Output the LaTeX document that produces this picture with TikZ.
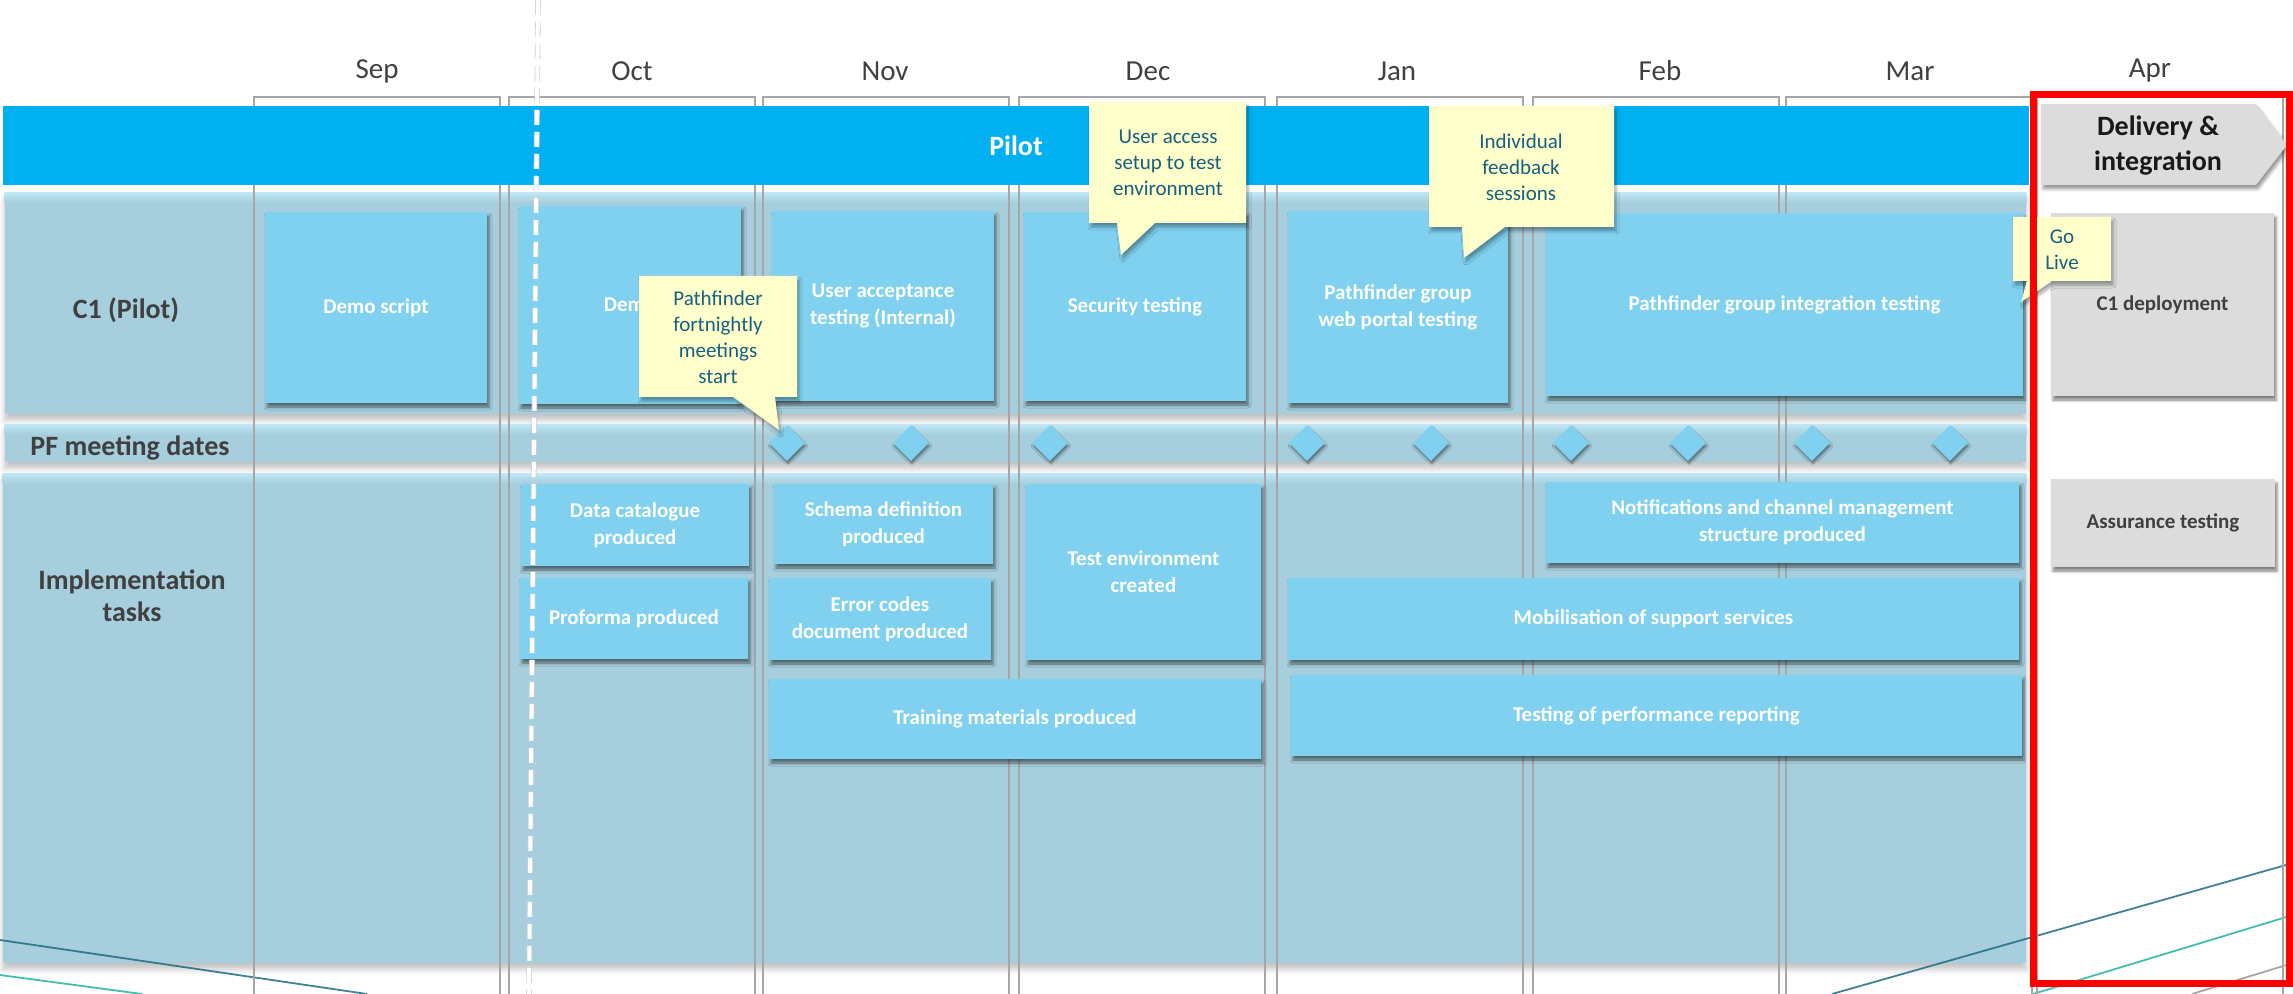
\documentclass[tikz,border=0pt]{standalone}
\usepackage{fontspec}
\setmainfont{Carlito}
\usetikzlibrary{positioning,shapes.geometric,shadows.blur}

\definecolor{pilotblue}{HTML}{00B0F0}
\definecolor{bandblue}{HTML}{A6CEDC}
\definecolor{bandtop}{HTML}{BFE6F5}
\definecolor{taskblue}{HTML}{7FD1EF}
\definecolor{greybox}{HTML}{DCDCDC}
\definecolor{noteyellow}{HTML}{FFFFCC}
\definecolor{noteink}{HTML}{17607F}
\definecolor{labelgrey}{HTML}{404040}
\definecolor{framegrey}{HTML}{A6A6A6}
\definecolor{darkteal}{HTML}{1E6B85}
\definecolor{lightteal}{HTML}{26B0A0}

\tikzset{
    band/.style={fill=bandblue, inner sep=0pt,
        blur shadow={shadow xshift=0pt, shadow yshift=-3pt, shadow blur radius=3pt, shadow opacity=25}},
    task/.style={fill=taskblue, text=white, inner sep=0pt, align=center,
        font=\bfseries\fontsize{10.5}{13.5}\selectfont,
        blur shadow={shadow xshift=1pt, shadow yshift=-2pt, shadow blur radius=1.5pt, shadow opacity=50}},
    greytask/.style={task, fill=greybox, text=labelgrey},
    note/.style={fill=noteyellow,
        blur shadow={shadow xshift=1pt, shadow yshift=-2pt, shadow blur radius=1.5pt, shadow opacity=35}},
    notetext/.style={text=noteink, inner sep=0pt, align=center, font=\fontsize{10.5}{13}\selectfont},
    monthframe/.style={draw=framegrey, line width=0.7pt},
    month/.style={text=labelgrey, font=\fontsize{14.5}{17}\selectfont},
    rowlabel/.style={text=labelgrey, align=center, font=\bfseries\fontsize{14}{16}\selectfont},
    pfdate/.style={diamond, fill=taskblue, minimum width=18pt, minimum height=18pt, inner sep=0pt,
        blur shadow={shadow xshift=0.5pt, shadow yshift=-1.5pt, shadow blur radius=1pt, shadow opacity=45}},
    size/.style args={#1x#2}{minimum width=#1pt, minimum height=#2pt},
}

\begin{document}
\begin{tikzpicture}[x=0.5pt, y=-0.5pt]
    \useasboundingbox (0,0) rectangle (2293,994);

    % row bands
    \node[band, size=1010.5x110.5] (c1row) at (1015.5,303.5) {};
    \node[band, size=1010.5x18.5] (pfrow) at (1015.5,443.5) {};
    \node[band, size=1011.5x244.5] (implrow) at (1014.5,718.5) {};
    \foreach \r in {c1row,pfrow,implrow}
        \fill[top color=bandtop, bottom color=bandblue] (\r.north west) rectangle ([yshift=-5pt]\r.north east);

    % background swooshes
    \draw[darkteal, line width=0.9pt, opacity=0.85] (0,940) -- (367,994);
    \draw[lightteal, line width=0.9pt, opacity=0.85] (0,975) -- (142,994);
    \draw[darkteal, line width=0.9pt, opacity=0.85] (1832,994) -- (2293,863);
    \draw[lightteal, line width=0.9pt, opacity=0.85] (2033,994) -- (2293,915);
    \draw[framegrey, line width=0.9pt] (2192,994) -- (2293,963);

    % month columns
    \foreach \l in {254,509,763,1019,1277,1533,1786,2037}
        \draw[monthframe] (\l,994) -- (\l,97) -- (\l+246,97) -- (\l+246,994);
    \foreach \m/\x in {Sep/377,Oct/632,Nov/885,Dec/1148,Jan/1397,Feb/1660,Mar/1910,Apr/2150}
        \node[month] (m\m) at (\x,71) {\m};

    % phase bar
    \node[fill=pilotblue, inner sep=0pt, size=1013x39.5, text=white,
        font=\bfseries\fontsize{14}{16}\selectfont] (pilot) at (1016,145.5) {Pilot};
    \path[fill=greybox, blur shadow={shadow xshift=1pt, shadow yshift=-2pt, shadow blur radius=1.5pt, shadow opacity=40}]
        (2041,104) -- (2256,104) -- (2287,145) -- (2256,185) -- (2041,185) -- cycle;
    \node[text=black!90, inner sep=0pt, align=center, font=\bfseries\fontsize{14}{17.5}\selectfont]
        (delivery) at (2158,146) {Delivery \&\\integration};

    % row labels
    \node[rowlabel] (c1label) at (126,310) {C1 (Pilot)};
    \node[rowlabel] (pflabel) at (130,448) {PF meeting dates};
    \node[rowlabel] (impllabel) at (132,596) {Implementation\\tasks};

    % C1 (Pilot)
    \node[task, size=111x95.5] (demoscript) at (376,307.5) {Demo script};
    \node[task, size=111x99] (demo) at (630,305) {Demo};
    \node[task, size=111x95] (uat) at (883,306) {User acceptance\\testing (Internal)};
    \node[task, size=111x94.5] (security) at (1135,306.5) {Security testing};
    \node[task, size=110x96] (portal) at (1398,307) {Pathfinder group\\web portal testing};
    \node[task, size=238.5x91.5] (integration) at (1784.5,304.5) {Pathfinder group integration testing};
    \node[greytask, size=111.5x91.5] (deploy) at (2162.5,304.5) {C1 deployment};

    % PF meeting dates
    \foreach \x [count=\i] in {787,911,1050,1307,1431,1571,1688,1812,1950}
        \node[pfdate] (pf\i) at (\x,443) {};

    % implementation tasks
    \node[task, size=114x41] (catalogue) at (635,525) {Data catalogue\\produced};
    \node[task, size=114x40.5] (proforma) at (634,618.5) {Proforma produced};
    \node[task, size=109.5x40] (schema) at (883.5,524) {Schema definition\\produced};
    \node[task, size=111x41] (errors) at (880,619) {Error codes\\document produced};
    \node[task, size=117.5x88] (testenv) at (1143.5,572) {Test environment\\created};
    \node[task, size=246x40] (training) at (1015,719) {Training materials produced};
    \node[task, size=236.5x40.5] (notify) at (1782.5,522.5) {Notifications and channel management\\structure produced};
    \node[task, size=365.5x41] (support) at (1653.5,619) {Mobilisation of support services};
    \node[task, size=365.5x40.5] (perf) at (1656.5,715.5) {Testing of performance reporting};
    \node[greytask, size=112x44] (assurance) at (2163,523) {Assurance testing};

    % call-outs
    \path[note] (639,276) -- (797,276) -- (797,397) -- (775,397) -- (779,430) -- (733,397) -- (639,397) -- cycle;
    \node[notetext] (pfstart) at (718,337) {Pathfinder\\fortnightly\\meetings\\start};
    \path[note] (1089,102) -- (1246,102) -- (1246,223) -- (1155,223) -- (1121,255) -- (1117,223) -- (1089,223) -- cycle;
    \node[notetext] (access) at (1168,163) {User access\\setup to test\\environment};
    \path[note] (1429,106) -- (1614,106) -- (1614,227) -- (1505,227) -- (1464,258) -- (1462,227) -- (1429,227) -- cycle;
    \node[notetext] (feedback) at (1521,167) {Individual\\feedback\\sessions};
    \path[note] (2013,217) -- (2111,217) -- (2111,281) -- (2052,281) -- (2021,302) -- (2027,281) -- (2013,281) -- cycle;
    \node[notetext] (golive) at (2062,250) {Go\\Live};

    % delivery window
    \draw[red, line width=3.5pt] (2033,95) rectangle (2289,983);

    % today line
    \coordinate (cuttop) at (538,0);
    \coordinate (cutbot) at (529,994);
    \draw[black!18, line width=2.8pt, dash pattern=on 7.5pt off 3.5pt] (cuttop) -- (cutbot);
    \draw[white, line width=2pt, dash pattern=on 7.5pt off 3.5pt] (cuttop) -- (cutbot);
\end{tikzpicture}
\end{document}
